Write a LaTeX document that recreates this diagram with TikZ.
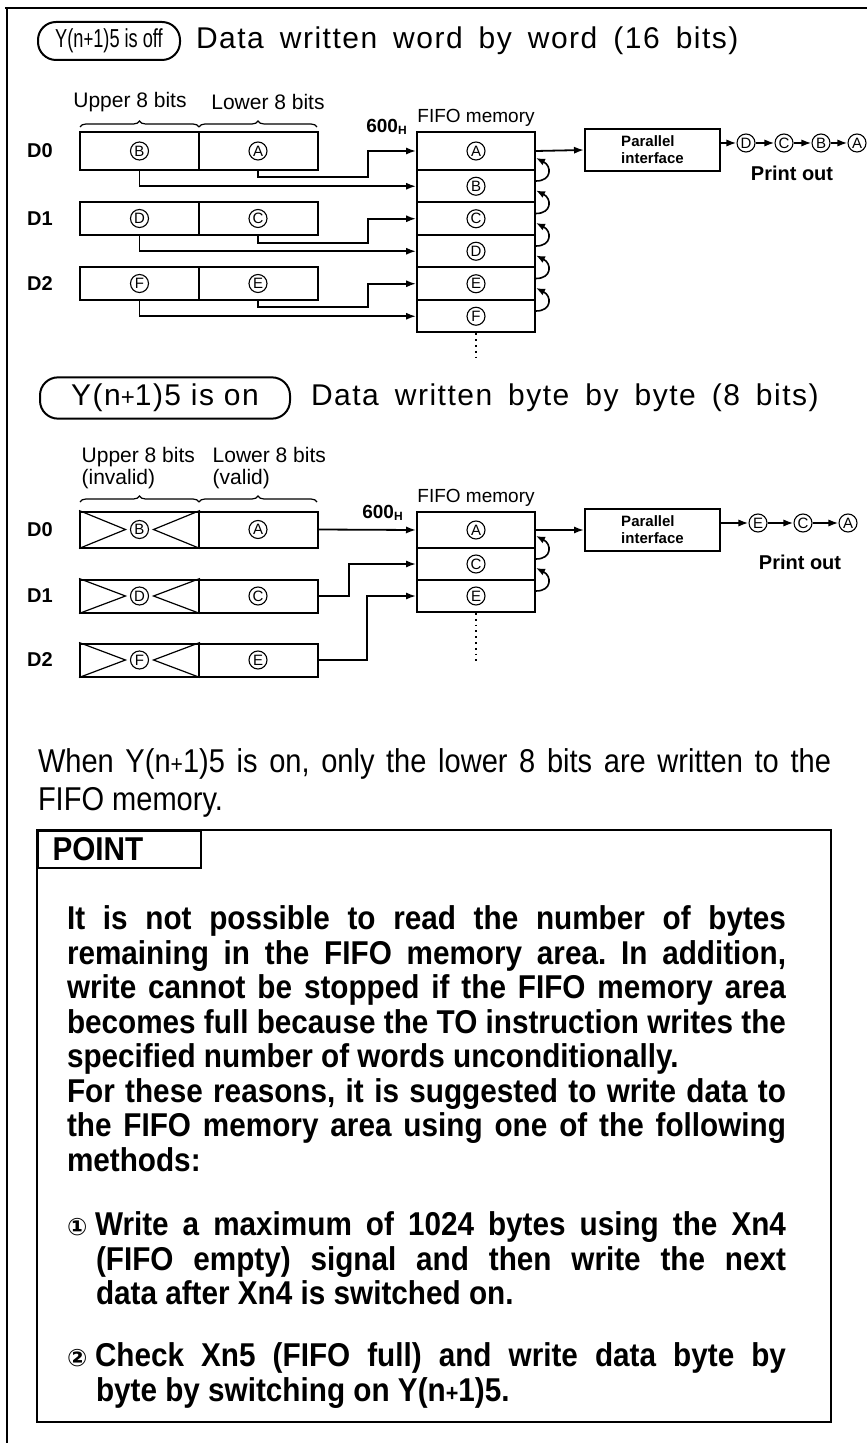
\documentclass[tikz,border=0pt]{standalone}
\usepackage{fontspec}
\setmainfont{Liberation Sans}
\newfontfamily\narrowfont[FakeStretch=0.88]{Liberation Sans}
\newfontfamily\boldnarrowfont[FakeStretch=0.9]{Liberation Sans}
\newfontfamily\pillfont[FakeStretch=0.7]{Liberation Sans}
\newfontfamily\headfont[LetterSpace=5]{Liberation Sans}
\newfontfamily\circfont{DejaVu Sans}
\usetikzlibrary{arrows.meta,decorations.pathreplacing,positioning}
\newcommand{\yfive}{Y(n{\large+}1)5}
\newcommand{\widespace}{\spaceskip 8pt plus 1pt\relax}
\tikzset{
  regcell/.style={draw,minimum width=59.5pt,inner sep=0pt},
  fifocell/.style={draw,minimum width=59pt,inner sep=0pt},
  circ/.style={circle,draw,line width=.55pt,inner sep=0pt,minimum size=9pt,font=\fontsize{7.5}{7.5}\selectfont},
  conn/.style={-{Latex[length=5pt,width=3.6pt]},line width=.9pt},
  loopback/.style={-{Latex[length=4.5pt,width=3.6pt]},line width=.8pt},
  bitbrace/.style={decorate,decoration={brace,amplitude=3pt},line width=.6pt},
  reglabel/.style={font=\bfseries\fontsize{10}{12}\selectfont},
  smalllabel/.style={font=\fontsize{10.5}{11}\selectfont,align=left},
  pill/.style={draw,rounded corners=9pt,minimum height=19pt},
  headtext/.style={inner sep=0pt,font=\headfont\fontsize{15}{17}\selectfont\widespace},
  pifbox/.style={draw,minimum width=67.5pt,minimum height=18pt,align=left,
    font=\bfseries\fontsize{7.5}{8.5}\selectfont},
  cross/.style={line width=.6pt}
}
\begin{document}
\begin{tikzpicture}[x=.5pt,y=-.5pt,line width=1pt]
\useasboundingbox (0,0) rectangle (867,1443);
\draw (5,8) -- (867,8);
\draw (7,8) -- (7,1443);

% word by word
\node[pill,minimum width=71pt,font=\pillfont\fontsize{13}{15}\selectfont] (pillw) at (109,41) {\yfive\ is off};
\node[headtext,anchor=west] (headw) at (195,41) {Data written word by word (16 bits)};
\node[smalllabel] (upw) at (130,102) {Upper 8 bits};
\node[smalllabel] (loww) at (268,102) {Lower 8 bits};
\draw[bitbrace] (80,127) -- (199,127);
\draw[bitbrace] (199,127) -- (317,127);
\node[regcell,minimum height=19pt] (w0u) at (139.5,151) {};
\node[regcell,minimum height=19pt] (w0l) at (258,151) {};
\node[regcell,minimum height=16.5pt] (w1u) at (139.5,218.5) {};
\node[regcell,minimum height=16.5pt] (w1l) at (258,218.5) {};
\node[regcell,minimum height=16.5pt] (w2u) at (139.5,283.5) {};
\node[regcell,minimum height=16.5pt] (w2l) at (258,283.5) {};
\foreach \n/\c in {w0u/B,w0l/A,w1u/D,w1l/C,w2u/F,w2l/E}{\node[circ] (\n c) at (\n) {\c};}
\foreach \i/\y in {0/151,1/218.5,2/283.5}{\node[reglabel] (wd\i) at (40,\y) {D\i};}
\node[font=\fontsize{9.5}{11}\selectfont] (fifow) at (476,118) {FIFO memory};
\node[font=\bfseries\fontsize{9.5}{11}\selectfont] (adrw) at (387,127) {600\textsubscript{\fontsize{6}{6}\selectfont H}};
\node[fifocell,minimum height=19pt] (wfA) at (476,151) {};
\foreach \c/\y in {B/186.25,C/218.75,D/251.25,E/283.75,F/316.25}
  {\node[fifocell,minimum height=16.25pt] (wf\c) at (476,\y) {};}
\foreach \c in {A,...,F}{\node[circ] (wf\c c) at (wf\c) {\c};}
\draw[dotted,line width=.9pt] (wfF.south) -- ++(0,24);
\draw[conn] (w0l.south) |- (368,177) |- (wfA.west);
\draw[conn] (w0u.south) |- (wfB.west);
\draw[conn] (w1l.south) |- (368,243) |- (wfC.west);
\draw[conn] (w1u.south) |- (wfD.west);
\draw[conn] (w2l.south) |- (368,307) |- (wfE.west);
\draw[conn] (w2u.south) |- (wfF.west);
\foreach \lo/\hi in {B/A,C/B,D/C,E/D,F/E}
  {\draw[loopback] ([yshift=-6pt]wf\lo.north east) .. controls +(8pt,0pt) and +(8pt,-4pt) .. ([yshift=6.5pt]wf\hi.south east);}
\node[pifbox] (pifw) at (652.5,150) {Parallel\\interface};
\node[circ] (wo1) at (746,143) {D};
\node[circ] (wo2) at (784,143) {C};
\node[circ] (wo3) at (821,143) {B};
\node[circ] (wo4) at (857,143) {A};
\draw[conn] (wfA.east) -- (pifw.west);
\draw[conn] (pifw.east |- wo1) -- (wo1);
\draw[conn] (wo1) -- (wo2);
\draw[conn] (wo2) -- (wo3);
\draw[conn] (wo3) -- (wo4);
\node[reglabel] (prtw) at (792,173) {Print out};

% byte by byte
\node[pill,minimum width=125pt,font=\headfont\fontsize{15}{17}\selectfont] (pillb) at (165,398) {\yfive\ is on\hspace{20pt}};
\node[headtext,anchor=west] (headb) at (310,398) {Data written byte by byte (8 bits)};
\node[smalllabel,anchor=north west] (upb) at (74,440) {Upper 8 bits\\(invalid)};
\node[smalllabel,anchor=north west] (lowb) at (205,440) {Lower 8 bits\\(valid)};
\draw[bitbrace] (80,502) -- (199,502);
\draw[bitbrace] (199,502) -- (317,502);
\node[regcell,minimum height=18pt] (b0u) at (139.5,529.5) {};
\node[regcell,minimum height=18pt] (b0l) at (258,529.5) {};
\node[regcell,minimum height=16.5pt] (b1u) at (139.5,596) {};
\node[regcell,minimum height=16.5pt] (b1l) at (258,596) {};
\node[regcell,minimum height=16.5pt] (b2u) at (139.5,660) {};
\node[regcell,minimum height=16.5pt] (b2l) at (258,660) {};
\foreach \n/\c in {b0u/B,b0l/A,b1u/D,b1l/C,b2u/F,b2l/E}{\node[circ] (\n c) at (\n) {\c};}
\foreach \i/\y in {0/529.5,1/596,2/660}{\node[reglabel] (bd\i) at (40,\y) {D\i};}
\foreach \i in {0,1,2}{
  \draw[cross] (b\i u.north west) -- ([xshift=-7pt]b\i u.center) -- (b\i u.south west);
  \draw[cross] (b\i u.north east) -- ([xshift=7pt]b\i u.center) -- (b\i u.south east);}
\node[font=\fontsize{9.5}{11}\selectfont] (fifob) at (476,498) {FIFO memory};
\node[font=\bfseries\fontsize{9.5}{11}\selectfont] (adrb) at (383,513) {600\textsubscript{\fontsize{6}{6}\selectfont H}};
\node[fifocell,minimum height=18pt] (bfA) at (476,530) {};
\node[fifocell,minimum height=16pt] (bfC) at (476,564) {};
\node[fifocell,minimum height=16pt] (bfE) at (476,596) {};
\foreach \c in {A,C,E}{\node[circ] (bf\c c) at (bf\c) {\c};}
\draw[dotted,line width=.9pt] (bfE.south) -- ++(0,48);
\draw[conn] (b0l.east) -- (bfA.west);
\draw[conn] (b1l.east) -| (349,564) -- (bfC.west);
\draw[conn] (b2l.east) -| (367,596) -- (bfE.west);
\foreach \lo/\hi in {C/A,E/C}
  {\draw[loopback] ([yshift=-6pt]bf\lo.north east) .. controls +(8pt,0pt) and +(8pt,-4pt) .. ([yshift=6.5pt]bf\hi.south east);}
\node[pifbox] (pifb) at (652.5,530) {Parallel\\interface};
\node[circ] (bo1) at (758,523) {E};
\node[circ] (bo2) at (803,523) {C};
\node[circ] (bo3) at (848,523) {A};
\draw[conn] (bfA.east) -- (pifb.west);
\draw[conn] (pifb.east |- bo1) -- (bo1);
\draw[conn] (bo1) -- (bo2);
\draw[conn] (bo2) -- (bo3);
\node[reglabel] (prtb) at (800,562) {Print out};

% note and point box
\node[anchor=north west,text width=396.5pt,align=justify,inner sep=0pt,
  font=\narrowfont\fontsize{16.5}{19}\selectfont\frenchspacing] (note) at (37,748)
  {When \yfive\ is on, only the lower 8 bits are written to the\linebreak FIFO memory.};
\draw (37,830) rectangle (831,1422);
\node[draw,anchor=north west,minimum width=81.5pt,minimum height=18pt,text width=67pt,align=left,
  inner xsep=7pt,font=\boldnarrowfont\bfseries\fontsize{16.5}{17}\selectfont] (pttab) at (37,830) {POINT};
\begin{scope}[every node/.style={anchor=north west,text width=359.5pt,align=justify,inner sep=0pt,
  font=\boldnarrowfont\bfseries\fontsize{16.5}{17.25}\selectfont\frenchspacing}]
\node (ptext) at (66,905) {It is not possible to read the number of bytes\linebreak
  remaining in the FIFO memory area. In addition,\linebreak
  write cannot be stopped if the FIFO memory area\linebreak
  becomes full because the TO instruction writes the\linebreak
  specified number of words unconditionally.\par
  For these reasons, it is suggested to write data to\linebreak
  the FIFO memory area using one of the following\linebreak methods:};
\node (item1) at (66,1211) {\noindent\hangindent=14.5pt\hangafter=1
  \makebox[14pt][l]{\circfont\fontsize{12}{12}\selectfont ①}Write a maximum of 1024 bytes using the Xn4\linebreak
  (FIFO empty) signal and then write the next\linebreak data after Xn4 is switched on.\par};
\node (item2) at (66,1342) {\noindent\hangindent=14.5pt\hangafter=1
  \makebox[14pt][l]{\circfont\fontsize{12}{12}\selectfont ②}Check Xn5 (FIFO full) and write data byte by\linebreak
  byte by switching on \yfive.\par};
\end{scope}
\end{tikzpicture}
\end{document}
